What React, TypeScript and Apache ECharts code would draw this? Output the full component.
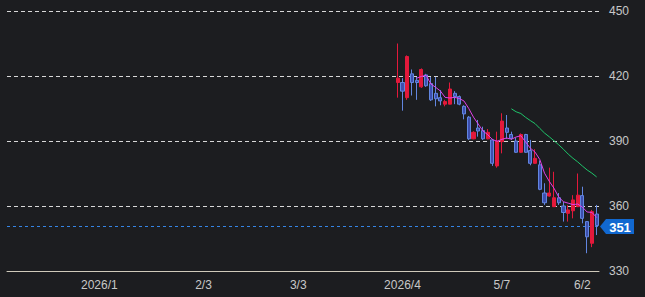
import React, { useEffect, useRef } from 'react';
import * as echarts from 'echarts';

// ---- axis scaffold ----
const slotCount = 125; // trading-day slots on the category axis
const firstSlot = 82; // slot of the first candle
const tickSlots = [19, 41, 61, 83, 104, 121];
const tickLabels = ['2026/1', '2/3', '3/3', '2026/4', '5/7', '6/2'];
const yMin = 330;
const yMax = 450;
const yStep = 30;

// ---- daily prices ----
const opens = [
  417, 417, 410, 421, 418, 415, 420.5, 416.5, 412, 410,
  407, 407, 412, 410.5, 406, 401, 391, 396, 394.8, 391,
  390.5, 378.5, 389.7, 396, 393, 390, 384.8, 393, 385.6, 379.7,
  379, 366, 364.6, 359.7, 363.8, 360, 356.6, 357.8, 359.7, 364.8,
  352.8, 342.8, 356.3,
];
const closes = [
  419, 413, 429, 417, 417, 423, 415.5, 409, 409.5, 408.5,
  408.2, 414, 410.5, 407, 402.5, 391, 394, 394.6, 391, 394,
  379.7, 390, 399.2, 394, 391.2, 384.8, 393, 384.8, 379.7, 382,
  367.7, 361.5, 366, 363.8, 361.5, 357, 358.2, 362.8, 365, 354.3,
  345.8, 357.4, 351,
];
const lows = [
  410, 404, 409, 411, 409, 414.5, 415, 408.5, 406, 406.5,
  406, 407, 407, 406.5, 400, 390.5, 390.8, 392, 390.5, 390.8,
  378.5, 377.7, 384.3, 391, 390.5, 384.5, 384.5, 384.5, 378.8, 379.5,
  367.3, 360.5, 364.3, 359.5, 360.5, 352.8, 352.8, 354.3, 359.5, 352,
  338.2, 341, 346.6,
];
const highs = [
  435, 419, 429.5, 423, 419.5, 423.5, 421, 419.5, 419.5, 413.5,
  409, 417, 413, 411, 406.5, 401.5, 394.5, 399.7, 396.6, 395.5,
  391, 394.3, 402.8, 402, 394.3, 391.5, 393.5, 393.3, 390.5, 386.2,
  381, 370.5, 377.7, 375.8, 366, 362, 360.4, 365, 375, 368.9,
  353, 358.2, 360.5,
];
const shortPeriod = 5;
const longPeriod = 25;

const UP = '#e3193b';
const DOWN_FILL = '#3d4fae';
const DOWN_BORDER = '#6286e0';
const FONT = '"Liberation Sans", Arial, sans-serif';

function movingAverage(period: number) {
  const out: [number, number][] = [];
  for (let i = period - 1; i < closes.length; i++) {
    let s = 0;
    for (let k = i - period + 1; k <= i; k++) s += closes[k];
    out.push([firstSlot + i, +(s / period).toFixed(2)]);
  }
  return out;
}

export default function App() {
  const ref = useRef<HTMLDivElement>(null);

  useEffect(() => {
    if (!ref.current) return;
    const chart = echarts.init(ref.current, null, { renderer: 'svg' });
    const categories = Array.from({ length: slotCount }, (_, i) => 'd' + i);
    const candles = closes.map((c, i) => [firstSlot + i, opens[i], c, lows[i], highs[i]]);
    const lastClose = closes[closes.length - 1];
    const gridLeft = 7;
    const gridRight = 46;

    chart.setOption({
      animation: false,
      backgroundColor: '#1c1d20',
      textStyle: { fontFamily: FONT },
      grid: { left: gridLeft, right: gridRight, top: 11, bottom: 26 },
      xAxis: {
        type: 'category',
        data: categories,
        boundaryGap: true,
        axisLine: { show: true, lineStyle: { color: '#cfcabb', width: 1 } },
        axisTick: { show: false },
        splitLine: { show: false },
        axisLabel: {
          color: '#c8c8c8',
          fontSize: 12,
          fontFamily: FONT,
          margin: 8,
          interval: (idx: number) => tickSlots.includes(idx),
          formatter: (_v: string, idx: number) => {
            const k = tickSlots.indexOf(idx);
            return k >= 0 ? tickLabels[k] : '';
          },
        },
      },
      yAxis: {
        type: 'value',
        position: 'right',
        min: yMin,
        max: yMax,
        interval: yStep,
        axisLine: { show: false },
        axisTick: { show: false },
        axisLabel: { color: '#c8c8c8', fontSize: 12, fontFamily: FONT, margin: 10 },
        splitLine: { show: true, lineStyle: { color: '#d8d8d8', type: [4, 3], width: 1 } },
      },
      series: [
        {
          type: 'candlestick',
          data: candles,
          encode: { x: 0, y: [1, 2, 3, 4] },
          barWidth: 3.6,
          z: 4,
          itemStyle: {
            color: UP,
            color0: DOWN_FILL,
            borderColor: UP,
            borderColor0: DOWN_BORDER,
            borderWidth: 1,
          },
        },
        {
          type: 'line',
          data: movingAverage(shortPeriod),
          showSymbol: false,
          lineStyle: { color: '#e040e8', width: 1 },
          z: 5,
        },
        {
          type: 'line',
          data: movingAverage(longPeriod),
          showSymbol: false,
          lineStyle: { color: '#1fc46a', width: 1 },
          z: 5,
        },
      ],
    });

    const py = Math.round(chart.convertToPixel({ yAxisIndex: 0 }, lastClose) as number) + 0.5;
    const px = chart.getWidth() - gridRight;
    chart.setOption({
      graphic: [
        {
          type: 'line',
          z: 1,
          shape: { x1: gridLeft, y1: py, x2: px, y2: py },
          style: { stroke: '#3584e4', lineWidth: 1, lineDash: [3, 3] },
        },
        {
          type: 'group',
          x: px,
          y: py,
          children: [
            {
              type: 'polygon',
              shape: { points: [[1, 0], [7, -7.5], [35, -7.5], [35, 7.5], [7, 7.5]] },
              style: { fill: '#1168d0' },
            },
            {
              type: 'text',
              x: 21,
              y: 0.5,
              style: {
                text: String(lastClose),
                fill: '#ffffff',
                font: `bold 13px ${FONT}`,
                align: 'center',
                verticalAlign: 'middle',
              },
            },
          ],
        },
      ],
    });

    return () => chart.dispose();
  }, []);

  return (
    <div
      ref={ref}
      style={{ position: 'absolute', left: 0, top: 0, width: 645, height: 297 }}
    />
  );
}
